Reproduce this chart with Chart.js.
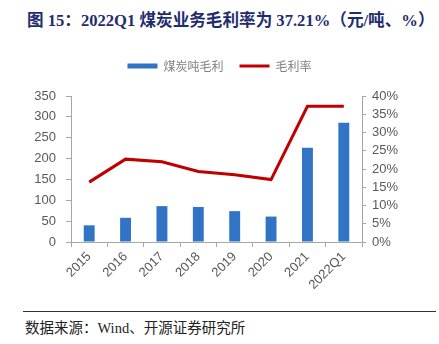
<!DOCTYPE html>
<html>
<head>
<meta charset="utf-8">
<script src="https://cdn.jsdelivr.net/npm/chart.js@4/dist/chart.umd.min.js"></script>
<style>
  body { margin: 0; width: 439px; height: 344px; background: #fff; position: relative; overflow: hidden; }
  .title { position: absolute; left: 27px; top: 7px; font: bold 16.6px "Liberation Serif", "Noto Sans CJK SC", serif; color: #1f2d6e; white-space: nowrap; }
  .chart-box { position: absolute; left: 0; top: 40px; width: 439px; height: 262px; }
  .rule { position: absolute; left: 23px; top: 311px; width: 413px; height: 0; border-top: 1px solid #333; }
  .source { position: absolute; left: 25px; top: 316px; font: 14.5px "Liberation Serif", "Noto Sans CJK SC", serif; color: #222; white-space: nowrap; }
</style>
</head>
<body>
<div class="title">图 15：2022Q1 煤炭业务毛利率为 37.21%（元/吨、%）</div>
<div class="chart-box"><canvas id="chart"></canvas></div>
<div class="rule"></div>
<div class="source">数据来源：Wind、开源证券研究所</div>
<script>
const categories = ['2015', '2016', '2017', '2018', '2019', '2020', '2021', '2022Q1'];
const profitPerTon = [40, 58, 86, 84, 74, 61, 226, 286];
const grossMargin = [16.4, 22.7, 22.0, 19.3, 18.4, 17.1, 37.2, 37.21];
const leftTicks = [0, 350, 50];
const rightTicks = [0, 40, 5];

const axisGrey = '#a6a6a6';
const labelGrey = '#595959';
const tickFont = { family: 'Liberation Sans', size: 13 };

// extra room under the legend
const legendGap = {
	id: 'legendGap',
	beforeInit(chart) {
		const fit = chart.legend.fit;
		chart.legend.fit = function () {
			fit.bind(chart.legend)();
			this.height += 14;
		};
	}
};

new Chart(document.getElementById('chart'), {
	type: 'bar',
	data: {
		labels: categories,
		datasets: [{
			label: '煤炭吨毛利',
			data: profitPerTon,
			backgroundColor: '#3174c5',
			borderWidth: 0,
			pointStyle: 'rect',
			categoryPercentage: 1,
			barPercentage: 0.3,
			yAxisID: 'y'
		}, {
			type: 'line',
			label: '毛利率',
			data: grossMargin,
			borderColor: '#c00000',
			backgroundColor: '#c00000',
			borderWidth: 3,
			pointRadius: 0,
			pointStyle: 'line',
			tension: 0,
			yAxisID: 'y1'
		}]
	},
	options: {
		responsive: true,
		maintainAspectRatio: false,
		animation: false,
		layout: { padding: { top: 4, left: 0, right: 0, bottom: 0 } },
		plugins: {
			tooltip: { enabled: false },
			legend: {
				position: 'top',
				labels: {
					usePointStyle: true,
					pointStyleWidth: 30,
					boxHeight: 5,
					padding: 16,
					color: '#7f7f7f',
					font: { family: 'Noto Sans CJK SC', size: 12 }
				}
			}
		},
		scales: {
			x: {
				grid: { drawOnChartArea: false, tickLength: 5, color: axisGrey, offset: true },
				border: { color: axisGrey },
				ticks: { color: labelGrey, font: tickFont, minRotation: 45, maxRotation: 45, padding: 2 },
				afterFit(scale) { scale.height = 60; }
			},
			y: {
				position: 'left',
				min: leftTicks[0],
				max: leftTicks[1],
				grid: { drawOnChartArea: false, tickLength: 5, color: axisGrey },
				border: { color: axisGrey },
				ticks: { stepSize: leftTicks[2], autoSkip: false, color: labelGrey, font: tickFont, padding: 10 },
				afterFit(scale) { scale.width = 71; }
			},
			y1: {
				position: 'right',
				min: rightTicks[0],
				max: rightTicks[1],
				grid: { drawOnChartArea: false, tickLength: 4, color: axisGrey },
				border: { color: axisGrey },
				ticks: { stepSize: rightTicks[2], autoSkip: false, color: labelGrey, font: tickFont, padding: 6, callback: v => v + '%' },
				afterFit(scale) { scale.width = 77; }
			}
		}
	},
	plugins: [legendGap]
});
</script>
</body>
</html>
